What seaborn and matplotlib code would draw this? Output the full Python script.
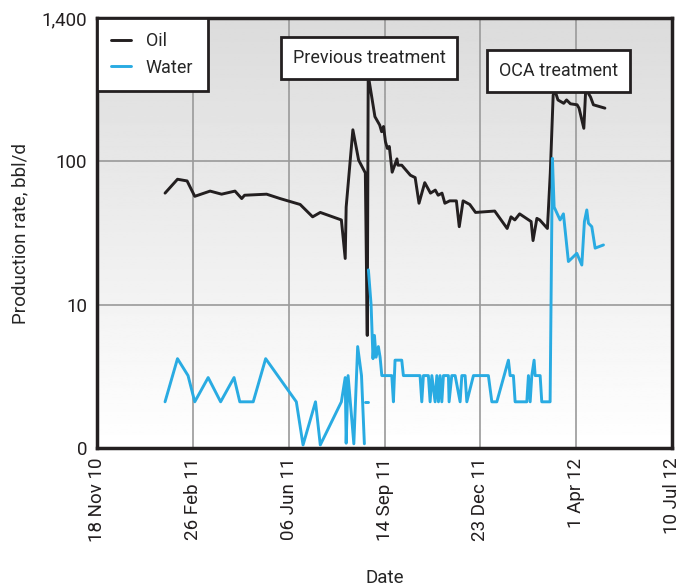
import numpy as np
import pandas as pd
import matplotlib
matplotlib.use("Agg")
import matplotlib.pyplot as plt
import seaborn as sns
from matplotlib import font_manager

# dias desde 18 Nov 10 e caudais em bbl/d
oil_days = [71, 84, 94, 102, 118, 130, 144, 151, 154, 177,
            191, 212, 225, 233, 255, 259, 260, 267, 273, 280,
            282, 283, 290, 295, 297, 299, 301, 303, 305, 308,
            313, 314, 318, 327, 332, 336, 342, 348, 353, 356,
            360, 363, 368, 375, 378, 382, 389, 395, 415, 428,
            432, 436, 441, 448, 453, 455, 459, 462, 470, 473,
            476, 478, 481, 487, 490, 494, 501, 503, 508, 510,
            515, 518, 530]
oil_rate = [60, 75, 73, 57, 62, 59, 62, 55, 58, 59,
            55, 50, 41, 44, 39, 21, 48, 166, 102, 83,
            6.1, 400, 205, 179, 161, 175, 137, 123, 127, 84,
            104, 94, 94, 80, 77, 51, 71, 60, 63, 58,
            60, 51, 53, 53, 35, 53, 50, 44, 45, 34,
            41, 39, 43, 40, 38, 28, 40, 39, 34, 83,
            290, 310, 268, 254, 268, 252, 248, 235, 170, 320,
            281, 248, 235]

water_days = [71, 84, 95, 102, 116, 129, 143, 149, 163, 176,
              208, 215, 228, 233, 255, 259, 260, 262, 268, 272, 276, 279,
              279.8, 282.5,
              283.2, 286, 288, 289.5, 291.2, 293.6, 295.4, 297.2, 307.6, 309.3,
              311, 318, 319.7, 337.1, 338.9, 340.6, 345.8, 347.6, 349.4, 352.8,
              354.6, 356.3, 358, 359.8, 361.5, 366.7, 367.4, 370.2, 373.7, 378.9,
              380.7, 384.1, 385.9, 392.8, 408.4, 412, 417.2, 429.3, 431.1, 434.5,
              436.3, 448.5, 450.2, 452, 453.7, 456.1, 457.2, 462.4, 464.1, 472.8,
              475.2, 477, 483.2, 486.7, 491.9, 500.7, 505.9, 508.6, 511.1, 512.8,
              516.3, 519.8, 528.5]
water_rate = [2.1, 4.2, 3.2, 2.1, 3.1, 2.1, 3.1, 2.1, 2.1, 4.2,
              2.1, 1.05, 2.1, 1.05, 2.1, 3.1, 1.08, 3.2, 1.07, 5.1, 3.2, 1.07,
              2.1, 2.1,
              17.5, 10, 4.2, 6.1, 4.3, 5.1, 4.3, 3.2, 3.2, 2.1,
              4.1, 4.1, 3.2, 3.2, 2.1, 3.2, 3.2, 2.1, 3.2, 2.1,
              3.2, 2.1, 3.2, 2.1, 3.2, 3.2, 2.1, 3.2, 3.2, 2.1,
              3.2, 3.2, 2.1, 3.2, 3.2, 2.1, 2.1, 4.1, 3.2, 3.2,
              2.1, 2.1, 3.2, 2.1, 3.2, 4.1, 3.2, 3.2, 2.1, 2.1,
              105, 48, 39, 43, 20, 22.8, 18.9, 38, 45.8, 37,
              35, 24.8, 26.1]
# a série de água tem falhas: três troços
water_seg = [0] * 22 + [1] * 2 + [2] * 63

tick_dates = ["2010-11-18", "2011-02-26", "2011-06-06", "2011-09-14",
              "2011-12-23", "2012-04-01", "2012-07-10"]
tick_labels = ["18 Nov 10", "26 Feb 11", "06 Jun 11", "14 Sep 11",
               "23 Dec 11", "1 Apr 12", "10 Jul 12"]
ytick_values = [1, 10, 100, 1000]
ytick_labels = ["0", "10", "100", "1,400"]

# montar o DataFrame
start = pd.Timestamp("2010-11-18")
df_oil = pd.DataFrame({"dias": oil_days, "taxa": oil_rate, "serie": "Oil", "seg": 0})
df_water = pd.DataFrame({"dias": water_days, "taxa": water_rate, "serie": "Water",
                         "seg": water_seg})
df = pd.concat([df_oil, df_water], ignore_index=True)
df["data"] = start + pd.to_timedelta(df["dias"], unit="D")

sns.set_style("white")
fontes = {f.name for f in font_manager.fontManager.ttflist}
familia = "Liberation Sans Narrow" if "Liberation Sans Narrow" in fontes else "Roboto"
plt.rcParams["font.family"] = [familia, "DejaVu Sans"]

fig = plt.figure(figsize=(6.87, 5.86), dpi=100)
ax = fig.add_axes([97 / 687, 1 - 448 / 586, 575 / 687, 430 / 586])

# fundo em degradê (cinzento em cima, branco em baixo)
grad = np.linspace(0.86, 1.0, 256).reshape(-1, 1)
ax.imshow(grad, cmap="gray", vmin=0, vmax=1, aspect="auto", origin="upper",
          extent=[0, 1, 0, 1], transform=ax.transAxes, zorder=0)

sns.lineplot(data=df, x="data", y="taxa", hue="serie", units="seg", estimator=None,
             palette={"Oil": "#231f20", "Water": "#29abe2"}, linewidth=2.1,
             sort=False, ax=ax, zorder=3)

ax.set_yscale("log")
ax.set_ylim(1, 1000)
ax.set_xlim(pd.Timestamp(tick_dates[0]), pd.Timestamp(tick_dates[-1]))
ax.set_yticks(ytick_values)
ax.set_yticklabels(ytick_labels, fontsize=13.5)
ax.yaxis.set_minor_locator(matplotlib.ticker.NullLocator())
ax.set_xticks(pd.to_datetime(tick_dates))
ax.set_xticklabels(tick_labels, rotation=90, fontsize=13.5)
ax.tick_params(length=0, pad=7, colors="#231f20")

ax.grid(True, color="#9a9a9a", linewidth=1.2, zorder=1)
ax.set_axisbelow(True)
for s in ax.spines.values():
    s.set_linewidth(2.5)
    s.set_color("#231f20")

ax.set_xlabel("Date", fontsize=13.5, labelpad=19)
ax.set_ylabel("Production rate, bbl/d", fontsize=13.5, labelpad=9)

handles, labels = ax.get_legend_handles_labels()
leg = ax.legend(handles, labels, loc="upper left", fontsize=13, frameon=True,
                fancybox=False, borderaxespad=0, handlelength=1.1,
                borderpad=0.8, labelspacing=0.45, framealpha=1)
leg.get_frame().set_edgecolor("#231f20")
leg.get_frame().set_linewidth(2)
leg.set_zorder(6)

caixa = dict(boxstyle="square,pad=0.65", fc="white", ec="#231f20", lw=2)
ax.text(0.473, 0.907, "Previous treatment", transform=ax.transAxes, fontsize=13,
        ha="center", va="center", bbox=caixa, zorder=6)
ax.text(0.803, 0.877, "OCA treatment", transform=ax.transAxes, fontsize=13,
        ha="center", va="center", bbox=caixa, zorder=6)

plt.savefig("out.png", dpi=100)
